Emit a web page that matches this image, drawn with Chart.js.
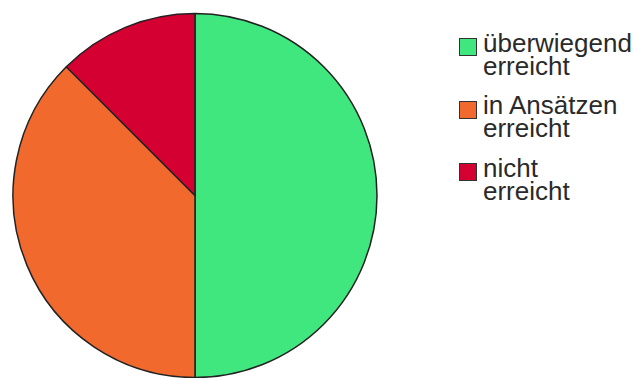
<!DOCTYPE html>
<html>
<head>
<meta charset="utf-8">
<script src="https://cdn.jsdelivr.net/npm/chart.js@4/dist/chart.umd.min.js"></script>
<style>
  html, body { margin: 0; padding: 0; background: #fff; }
  #wrap { position: relative; width: 635px; height: 378px; overflow: hidden; }
  #pieBox { position: absolute; left: 0; top: 0; width: 390px; height: 378px; }
  .item { position: absolute; left: 459px; }
  .item .box { position: absolute; left: 0; top: 6.5px; width: 16px; height: 16px; border: 1px solid #333; }
  .item .txt { position: absolute; left: 24px; top: 0; font-family: "Liberation Sans", Arial, sans-serif;
               font-size: 26px; line-height: 23px; color: #2a2a2a; white-space: nowrap; }
</style>
</head>
<body>
<div id="wrap">
  <div id="pieBox"><canvas id="grafico"></canvas></div>
  <div id="legenda"></div>
</div>
<script>
// categories and values (50% / 37.5% / 12.5%)
const labels = [["überwiegend", "erreicht"], ["in Ansätzen", "erreicht"], ["nicht", "erreicht"]];
const valores = [4, 3, 1];
const cores = ["#40e67e", "#f2692e", "#d50032"];

new Chart(document.getElementById("grafico"), {
    type: "pie",
    data: {
        labels: labels.map(l => l.join(" ")),
        datasets: [{
            data: valores,
            backgroundColor: cores,
            borderColor: "#222",
            borderWidth: 1.5,
            hoverOffset: 0
        }]
    },
    options: {
        responsive: true,
        maintainAspectRatio: false,
        animation: false,
        radius: 182,
        layout: { padding: { top: 13, bottom: 0, left: 0, right: 0 } },
        plugins: { legend: { display: false }, tooltip: { enabled: false } }
    }
});

/* legenda em HTML */
const legenda = document.getElementById("legenda");
labels.forEach((l, i) => {
    const item = document.createElement("div");
    item.className = "item";
    item.style.top = (31.5 + i * 62.5) + "px";
    item.innerHTML = '<div class="box" style="background:' + cores[i] + '"></div>' +
        '<div class="txt">' + l.join("<br>") + '</div>';
    legenda.appendChild(item);
});
</script>
</body>
</html>
